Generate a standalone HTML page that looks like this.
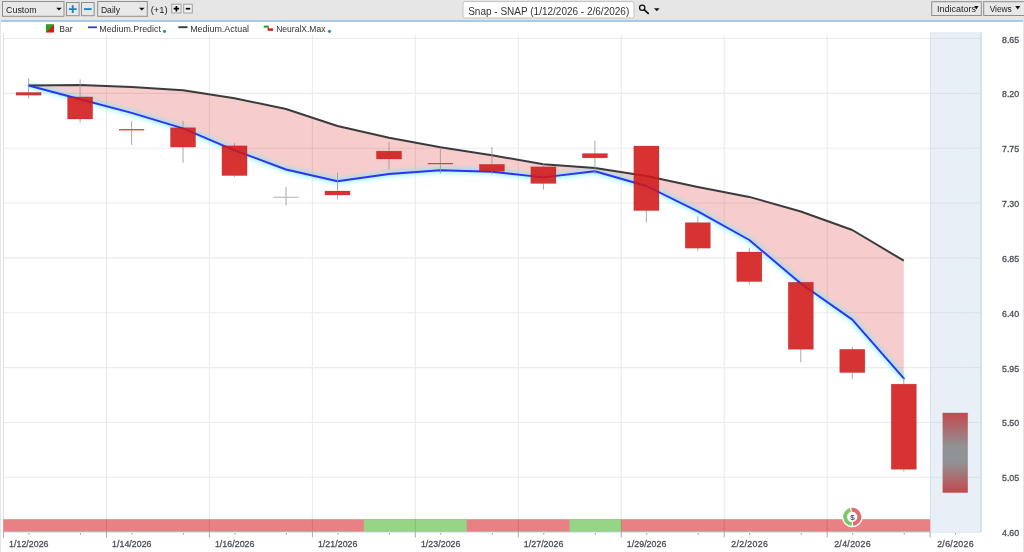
<!DOCTYPE html>
<html><head><meta charset="utf-8"><title>Snap - SNAP</title>
<style>
html,body{margin:0;padding:0;}
body{width:1024px;height:552px;overflow:hidden;background:#fff;position:relative;font-family:"Liberation Sans",sans-serif;}
.tb{position:absolute;left:0;top:0;width:1024px;height:20px;background:#e6e6e6;}
.bl{position:absolute;left:1px;top:19.7px;width:1021.6px;height:2.1px;background:linear-gradient(#a6c6de,#a9cfec);}
.sl{position:absolute;left:0;top:0;width:0.9px;height:552px;background:#e6e6e6;}
.sr{position:absolute;left:1022.6px;top:0;width:1.4px;height:552px;background:#e4e4e4;}
.ax{font-family:"Liberation Sans",sans-serif;font-size:8.8px;fill:#4c5058;stroke:#4c5058;stroke-width:0.3px;}
.lg{font-family:"Liberation Sans",sans-serif;font-size:8.7px;fill:#333;}
.tt{font-family:"Liberation Sans",sans-serif;font-size:8.7px;fill:#222;}
.ti{font-family:"Liberation Sans",sans-serif;font-size:10px;fill:#333;}
</style></head><body>
<div class="tb"></div><div class="sl"></div><div class="sr"></div><div class="bl"></div>
<svg width="1024" height="22" viewBox="0 0 1024 22" style="position:absolute;left:0;top:0">
<rect x="2.5" y="1.5" width="61.5" height="14.8" fill="#e8e8e8" stroke="#8e8e8e" stroke-width="1" rx="0"/>
<text x="6.1" y="12.7" class="tt" style="font-size:8.85px">Custom</text>
<polygon points="56.2,7.8 61.8,7.8 59.0,10.6" fill="#111"/>
<rect x="66.5" y="2.5" width="12.599999999999994" height="13.2" fill="#e8e8e8" stroke="#8e8e8e" stroke-width="1" rx="0"/>
<path d="M68.9 9.1H76.6M72.75 5.2V13" stroke="#1e83c4" stroke-width="1.9"/>
<rect x="81.5" y="2.5" width="12.599999999999994" height="13.2" fill="#e8e8e8" stroke="#8e8e8e" stroke-width="1" rx="0"/>
<path d="M84 9.1H91.6" stroke="#1e83c4" stroke-width="1.9"/>
<rect x="97.7" y="1.5" width="49.60000000000001" height="14.8" fill="#e8e8e8" stroke="#8e8e8e" stroke-width="1" rx="0"/>
<text x="100.9" y="12.7" class="tt" style="font-size:8.6px">Daily</text>
<polygon points="139,7.8 144.6,7.8 141.8,10.6" fill="#111"/>
<text x="150.7" y="12.7" class="tt" style="font-size:9.4px">(+1)</text>
<rect x="171.7" y="4.2" width="9.300000000000011" height="8.8" fill="#f1f1f1" stroke="#a0a0a0" stroke-width="1" rx="0"/>
<path d="M173.6 8.7H179.2M176.4 5.9V11.5" stroke="#000" stroke-width="1.7"/>
<rect x="183.7" y="4.2" width="8.600000000000023" height="8.8" fill="#f1f1f1" stroke="#a0a0a0" stroke-width="1" rx="0"/>
<path d="M185.8 8.7H190.2" stroke="#000" stroke-width="1.7"/>
<rect x="463.0" y="1.6" width="171.0" height="16.4" fill="#fff" stroke="#c2c2c2" stroke-width="1" rx="2"/>
<text x="468.2" y="15.2" class="ti">Snap - SNAP (1/12/2026 - 2/6/2026)</text>
<circle cx="642.2" cy="7.7" r="2.65" fill="none" stroke="#111" stroke-width="1.25"/><path d="M644.3 9.8L648.2 13.3" stroke="#111" stroke-width="1.8" stroke-linecap="round"/>
<polygon points="654,8.3 659.6,8.3 656.8,11.3" fill="#111"/>
<rect x="931.7" y="1.7" width="49.59999999999991" height="13.8" fill="#e8e8e8" stroke="#8e8e8e" stroke-width="1" rx="0"/>
<text x="936.9" y="12" class="tt" style="font-size:9px">Indicators</text>
<polygon points="974.2,6 978.6,6 976.4000000000001,9.5" fill="#111"/>
<rect x="983.7" y="1.7" width="41.799999999999955" height="13.8" fill="#e8e8e8" stroke="#8e8e8e" stroke-width="1" rx="0"/>
<text x="989.7" y="12" class="tt" style="font-size:8.35px">Views</text>
<polygon points="1015.2,6 1020.3,6 1017.75,9.5" fill="#111"/>
</svg>
<svg width="1024" height="552" viewBox="0 0 1024 552" style="position:absolute;left:0;top:0">
<defs><filter id="glow" x="-5%" y="-5%" width="110%" height="110%"><feGaussianBlur stdDeviation="1.9"/></filter><linearGradient id="fc" x1="0" y1="0" x2="0" y2="1"><stop offset="0" stop-color="#c4484e"/><stop offset="0.42" stop-color="#919293"/><stop offset="0.62" stop-color="#919293"/><stop offset="1" stop-color="#c4484e"/></linearGradient><pattern id="hatch" width="2" height="2" patternUnits="userSpaceOnUse"><rect width="2" height="2" fill="#e9eff7"/><rect width="1" height="1" fill="#e4ebf4"/></pattern></defs>
<rect x="930" y="32.5" width="51.5" height="499.5" fill="#e9eff7"/>
<path d="M930.4 32.6V532" stroke="#d3dfec" stroke-width="1" fill="none"/>
<path d="M981 32.4V532" stroke="#c9dcee" stroke-width="1.5" fill="none"/>
<path d="M930 32.8H981.7" stroke="#dde7f2" stroke-width="0.8" fill="none"/>
<path d="M3.5 38.50H930M3.5 93.35H930M3.5 148.20H930M3.5 203.05H930M3.5 257.90H930M3.5 312.75H930M3.5 367.60H930M3.5 422.45H930M3.5 477.30H930M106.46 34.5V532M209.42 34.5V532M312.38 34.5V532M415.34 34.5V532M518.30 34.5V532M621.26 34.5V532M724.22 34.5V532M827.18 34.5V532" stroke="#ebebeb" stroke-width="1.1" fill="none"/>
<path d="M930.5 38.50H980.5M930.5 93.35H980.5M930.5 148.20H980.5M930.5 203.05H980.5M930.5 257.90H980.5M930.5 312.75H980.5M930.5 367.60H980.5M930.5 422.45H980.5M930.5 477.30H980.5" stroke="#d9dee4" stroke-width="1" stroke-dasharray="2 0.5" fill="none"/>
<path d="M3.5 33.4V537.5" stroke="#dedede" stroke-width="1" fill="none"/>
<polygon points="28.6,85.5 80.1,84.9 131.6,87.0 183.0,90.2 234.5,98.3 286.0,109.0 337.5,126.0 389.0,137.8 440.4,147.3 491.9,155.2 543.4,164.3 594.9,168.0 646.4,176.0 697.8,187.0 749.3,196.9 800.8,211.5 852.3,230.0 903.8,260.7 903.8,378.4 852.3,319.6 800.8,283.5 749.3,240.0 697.8,211.3 646.4,186.0 594.9,171.3 543.4,177.4 491.9,171.8 440.4,170.3 389.0,174.0 337.5,181.2 286.0,169.5 234.5,150.3 183.0,128.4 131.6,112.9 80.1,99.2 28.6,85.5" fill="#dc2828" fill-opacity="0.235"/>
<polyline points="28.6,85.5 80.1,99.2 131.6,112.9 183.0,128.4 234.5,150.3 286.0,169.5 337.5,181.2 389.0,174 440.4,170.3 491.9,171.8 543.4,177.4 594.9,171.3 646.4,186 697.8,211.3 749.3,240.0 800.8,283.5 852.3,319.6 903.8,378.4" fill="none" stroke="#5cf2ff" stroke-width="5.5" opacity="0.6" filter="url(#glow)" stroke-linejoin="round"/>
<polyline points="28.6,85.5 80.1,84.9 131.6,87 183.0,90.2 234.5,98.3 286.0,109 337.5,126 389.0,137.8 440.4,147.3 491.9,155.2 543.4,164.3 594.9,168 646.4,176 697.8,187 749.3,196.9 800.8,211.5 852.3,230 903.8,260.7" fill="none" stroke="#3b3b3b" stroke-width="2" stroke-linejoin="round"/>
<polyline points="28.6,85.5 80.1,99.2 131.6,112.9 183.0,128.4 234.5,150.3 286.0,169.5 337.5,181.2 389.0,174 440.4,170.3 491.9,171.8 543.4,177.4 594.9,171.3 646.4,186 697.8,211.3 749.3,240.0 800.8,283.5 852.3,319.6 903.8,378.4" fill="none" stroke="#3231f0" stroke-width="1.95" stroke-linejoin="round" stroke-linecap="round"/>
<path d="M28.6 78.5V92.4M28.6 95.2V98.6" stroke="#9a9a9a" stroke-width="1" opacity="0.85"/>
<rect x="16.0" y="92.4" width="25.2" height="2.8" fill="#d21818" opacity="0.88" stroke="#7a1010" stroke-opacity="0.3" stroke-width="0.6"/>
<path d="M80.1 79.4V96.9M80.1 119V122.7" stroke="#9a9a9a" stroke-width="1" opacity="0.85"/>
<rect x="67.5" y="96.9" width="25.2" height="22.1" fill="#d21818" opacity="0.88" stroke="#7a1010" stroke-opacity="0.3" stroke-width="0.6"/>
<path d="M131.6 121.2V129.1M131.6 130.4V144.8" stroke="#9a9a9a" stroke-width="1" opacity="0.85"/>
<rect x="119.0" y="129.1" width="25.2" height="1.3" fill="#b84c4a"/>
<path d="M183.0 120.8V127.7M183.0 147.1V162.9" stroke="#9a9a9a" stroke-width="1" opacity="0.85"/>
<rect x="170.4" y="127.7" width="25.2" height="19.4" fill="#d21818" opacity="0.88" stroke="#7a1010" stroke-opacity="0.3" stroke-width="0.6"/>
<path d="M234.5 143V145.8M234.5 175.6V176.9" stroke="#9a9a9a" stroke-width="1" opacity="0.85"/>
<rect x="221.9" y="145.8" width="25.2" height="29.8" fill="#d21818" opacity="0.88" stroke="#7a1010" stroke-opacity="0.3" stroke-width="0.6"/>
<path d="M286.0 186.9V196.8M286.0 197.6V205.5" stroke="#9a9a9a" stroke-width="1" opacity="0.85"/>
<rect x="273.4" y="196.8" width="25.2" height="0.8" fill="#9a9a9a"/>
<path d="M337.5 172.7V191M337.5 195V199.5" stroke="#9a9a9a" stroke-width="1" opacity="0.85"/>
<rect x="324.9" y="191" width="25.2" height="4.0" fill="#d21818" opacity="0.88" stroke="#7a1010" stroke-opacity="0.3" stroke-width="0.6"/>
<path d="M389.0 142V151.1M389.0 159V169.4" stroke="#9a9a9a" stroke-width="1" opacity="0.85"/>
<rect x="376.4" y="151.1" width="25.2" height="7.9" fill="#d21818" opacity="0.88" stroke="#7a1010" stroke-opacity="0.3" stroke-width="0.6"/>
<path d="M440.4 149V163M440.4 164.2V173.7" stroke="#9a9a9a" stroke-width="1" opacity="0.85"/>
<rect x="427.8" y="163" width="25.2" height="1.2" fill="#b84c4a"/>
<path d="M491.9 147.1V164.3M491.9 171.4V174.3" stroke="#9a9a9a" stroke-width="1" opacity="0.85"/>
<rect x="479.3" y="164.3" width="25.2" height="7.1" fill="#d21818" opacity="0.88" stroke="#7a1010" stroke-opacity="0.3" stroke-width="0.6"/>
<path d="M543.4 163.3V166.8M543.4 183.5V189.6" stroke="#9a9a9a" stroke-width="1" opacity="0.85"/>
<rect x="530.8" y="166.8" width="25.2" height="16.7" fill="#d21818" opacity="0.88" stroke="#7a1010" stroke-opacity="0.3" stroke-width="0.6"/>
<path d="M594.9 140.7V153.5M594.9 157.9V174.6" stroke="#9a9a9a" stroke-width="1" opacity="0.85"/>
<rect x="582.3" y="153.5" width="25.2" height="4.4" fill="#d21818" opacity="0.88" stroke="#7a1010" stroke-opacity="0.3" stroke-width="0.6"/>
<path d="M646.4 146V146M646.4 210.6V222.7" stroke="#9a9a9a" stroke-width="1" opacity="0.85"/>
<rect x="633.8" y="146" width="25.2" height="64.6" fill="#d21818" opacity="0.88" stroke="#7a1010" stroke-opacity="0.3" stroke-width="0.6"/>
<path d="M697.8 216.5V222.6M697.8 248.2V251" stroke="#9a9a9a" stroke-width="1" opacity="0.85"/>
<rect x="685.2" y="222.6" width="25.2" height="25.6" fill="#d21818" opacity="0.88" stroke="#7a1010" stroke-opacity="0.3" stroke-width="0.6"/>
<path d="M749.3 247.8V252M749.3 281.6V284.3" stroke="#9a9a9a" stroke-width="1" opacity="0.85"/>
<rect x="736.7" y="252" width="25.2" height="29.6" fill="#d21818" opacity="0.88" stroke="#7a1010" stroke-opacity="0.3" stroke-width="0.6"/>
<path d="M800.8 282.2V282.2M800.8 349.3V362.3" stroke="#9a9a9a" stroke-width="1" opacity="0.85"/>
<rect x="788.2" y="282.2" width="25.2" height="67.1" fill="#d21818" opacity="0.88" stroke="#7a1010" stroke-opacity="0.3" stroke-width="0.6"/>
<path d="M852.3 346.7V349.3M852.3 372.6V379" stroke="#9a9a9a" stroke-width="1" opacity="0.85"/>
<rect x="839.7" y="349.3" width="25.2" height="23.3" fill="#d21818" opacity="0.88" stroke="#7a1010" stroke-opacity="0.3" stroke-width="0.6"/>
<path d="M903.8 378V384.1M903.8 469.3V471.6" stroke="#9a9a9a" stroke-width="1" opacity="0.85"/>
<rect x="891.2" y="384.1" width="25.2" height="85.2" fill="#d21818" opacity="0.88" stroke="#7a1010" stroke-opacity="0.3" stroke-width="0.6"/>
<rect x="942.6" y="412.8" width="25.2" height="79.9" fill="url(#fc)"/>
<rect x="3.2" y="519.2" width="927" height="12.7" fill="#e88184"/>
<rect x="363.8" y="519.2" width="102.9" height="12.7" fill="#95d585"/>
<rect x="569.5" y="519.2" width="51.7" height="12.7" fill="#95d585"/>
<path d="M106.46 519V532M209.42 519V532M312.38 519V532M415.34 519V532M518.30 519V532M621.26 519V532M724.22 519V532M827.18 519V532" stroke="#000" stroke-width="1" opacity="0.12" fill="none"/>
<path d="M3.5 532.3H981" stroke="#d3e4f2" stroke-width="0.9" fill="none"/>
<path d="M3.50 532V537.5M106.46 532V537.5M209.42 532V537.5M312.38 532V537.5M415.34 532V537.5M518.30 532V537.5M621.26 532V537.5M724.22 532V537.5M827.18 532V537.5M930.14 532V537.5" stroke="#aaa" stroke-width="1" fill="none"/>
<path d="M29.0 533V534.6M80.5 533V534.6M132.0 533V534.6M183.4 533V534.6M234.9 533V534.6M286.4 533V534.6M337.9 533V534.6M389.4 533V534.6M440.8 533V534.6M492.3 533V534.6M543.8 533V534.6M595.3 533V534.6M646.8 533V534.6M698.2 533V534.6M749.7 533V534.6M801.2 533V534.6M852.7 533V534.6M904.2 533V534.6M955.6 533V534.6" stroke="#999" stroke-width="1" fill="none"/>
<circle cx="852.3" cy="516.9" r="10.4" fill="#fff"/>
<path d="M850.33 510.03A7.15 7.15 0 0 0 851.80 524.03" fill="none" stroke="#7dc96a" stroke-width="4.0"/>
<path d="M851.55 509.79A7.15 7.15 0 0 1 853.05 524.01" fill="none" stroke="#e36b6e" stroke-width="4.0"/>
<text x="852.5999999999999" y="519.6" font-size="8" text-anchor="middle" fill="#2a2a30" font-family="Liberation Sans, sans-serif">$</text>
<text x="1002.0" y="42.5" class="ax">8.65</text>
<text x="1002.0" y="97.3" class="ax">8.20</text>
<text x="1002.0" y="152.2" class="ax">7.75</text>
<text x="1002.0" y="207.1" class="ax">7.30</text>
<text x="1002.0" y="261.9" class="ax">6.85</text>
<text x="1002.0" y="316.8" class="ax">6.40</text>
<text x="1002.0" y="371.6" class="ax">5.95</text>
<text x="1002.0" y="426.4" class="ax">5.50</text>
<text x="1002.0" y="481.3" class="ax">5.05</text>
<text x="1002.0" y="536.2" class="ax">4.60</text>
<text x="28.8" y="546.8" text-anchor="middle" class="ax" letter-spacing="0.04">1/12/2026</text>
<text x="131.8" y="546.8" text-anchor="middle" class="ax" letter-spacing="0.04">1/14/2026</text>
<text x="234.7" y="546.8" text-anchor="middle" class="ax" letter-spacing="0.04">1/16/2026</text>
<text x="337.7" y="546.8" text-anchor="middle" class="ax" letter-spacing="0.04">1/21/2026</text>
<text x="440.7" y="546.8" text-anchor="middle" class="ax" letter-spacing="0.04">1/23/2026</text>
<text x="543.6" y="546.8" text-anchor="middle" class="ax" letter-spacing="0.04">1/27/2026</text>
<text x="646.6" y="546.8" text-anchor="middle" class="ax" letter-spacing="0.04">1/29/2026</text>
<text x="749.7" y="546.8" text-anchor="middle" class="ax" letter-spacing="0.33">2/2/2026</text>
<text x="852.6" y="546.8" text-anchor="middle" class="ax" letter-spacing="0.33">2/4/2026</text>
<text x="955.6" y="546.8" text-anchor="middle" class="ax" letter-spacing="0.33">2/6/2026</text>
<g><rect x="46" y="24.5" width="8" height="8" fill="#d9181d"/><polygon points="46,24.5 54,24.5 46,32.5" fill="#1fa91f"/></g>
<text x="59.3" y="31.7" class="lg" style="font-size:8.55px">Bar</text>
<path d="M88 27.3H97" stroke="#9fefff" stroke-width="3.4" filter="url(#glow)"/><path d="M88 27.3H97" stroke="#2a2cf2" stroke-width="1.7"/>
<text x="99.3" y="31.7" class="lg" style="font-size:8.87px">Medium.Predict</text>
<circle cx="164.5" cy="31.3" r="1.6" fill="#3c8aa8"/>
<path d="M178.3 27.2H187.5" stroke="#3b3b3b" stroke-width="1.9"/>
<text x="190.2" y="31.7" class="lg" style="font-size:8.92px">Medium.Actual</text>
<rect x="263.7" y="25.6" width="5.1" height="2.1" fill="#1fa91f"/><rect x="267.7" y="27.5" width="1.3" height="1.6" fill="#a33"/><rect x="267.7" y="28.4" width="5.4" height="2.4" fill="#d9181d"/>
<text x="276.2" y="31.7" class="lg" style="font-size:8.52px">NeuralX.Max</text>
<circle cx="329.5" cy="31.3" r="1.6" fill="#3c8aa8"/>
</svg>
</body></html>
